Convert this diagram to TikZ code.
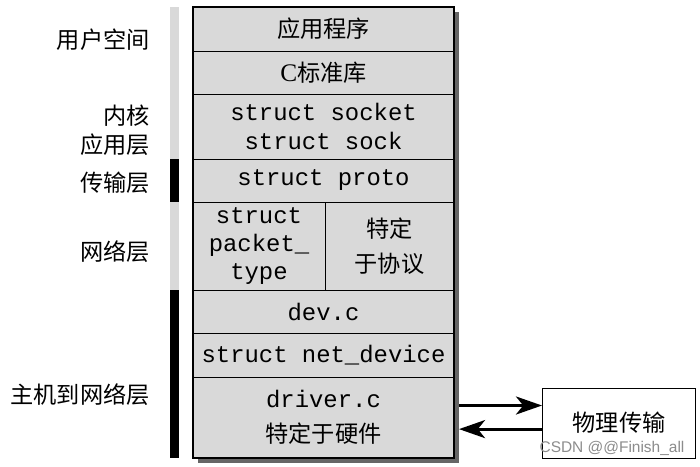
\documentclass[tikz,border=0pt]{standalone}
\usepackage{fontspec}
\setmainfont{Noto Sans CJK SC}
\newfontfamily\codefont{Liberation Mono}
\newfontfamily\serifc{Liberation Serif}
\newfontfamily\markfont{Liberation Sans}
\usetikzlibrary{arrows.meta,positioning,calc,backgrounds}

\begin{document}
\begin{tikzpicture}[
  layer/.style={draw, line width=0.6pt, fill=black!15, minimum width=6.525cm, inner sep=0pt, outer sep=0pt, align=center, font=\fontsize{16.5}{20}\selectfont},
  code/.style={font=\fontsize{17}{20}\selectfont\codefont},
  side/.style={anchor=east, align=right, inner sep=0pt, font=\fontsize{16.5}{21}\selectfont},
  link/.style={-{Stealth[length=6.5mm,width=4.5mm,inset=1.8mm]}, line width=2.2pt},
  node distance=0pt]
\useasboundingbox (-4.825,0.175) rectangle (12.675,-11.475);

\node[layer, minimum height=1.1cm, anchor=north west] (app) at (0,0) {应用程序};
\node[layer, minimum height=1.075cm, below=of app] (libc) {{\serifc\fontsize{18}{20}\selectfont C}标准库};
\node[layer, code, minimum height=1.625cm, below=of libc] (sock) {struct socket\\struct sock};
\node[layer, code, minimum height=1.075cm, below=of sock] (proto) {struct proto};
\node[layer, code, minimum width=3.3cm, minimum height=2.2cm, anchor=north west] (pkt) at (proto.south west) {struct\\packet\_\\type};
\node[layer, minimum width=3.225cm, minimum height=2.2cm, anchor=north west] (spec) at (pkt.north east) {特定\\[5pt]于协议};
\node[layer, code, minimum height=1.075cm, anchor=north west] (dev) at (pkt.south west) {dev.c};
\node[layer, code, minimum height=1.1cm, below=of dev] (netdev) {struct net\_device};
\node[layer, minimum height=2.025cm, below=of netdev] (drv) {{\codefont\fontsize{17}{20}\selectfont driver.c}\\[5pt]特定于硬件};
\draw[line width=1pt] (app.north west) rectangle (drv.south east);

\begin{scope}[on background layer]
\fill[black!60] ($(app.north east)+(0.125,-0.125)$) rectangle ($(drv.south west)+(0.125,-0.125)$);
\end{scope}

\fill[black!15] ($(app.north west)+(-0.575,0)$) rectangle ($(sock.south west)+(-0.35,0)$);
\fill[black] ($(sock.south west)+(-0.575,0)$) rectangle ($(proto.south west)+(-0.35,0)$);
\fill[black!15] ($(proto.south west)+(-0.575,0)$) rectangle ($(pkt.south west)+(-0.35,0)$);
\fill[black] ($(pkt.south west)+(-0.575,0)$) rectangle ($(drv.south west)+(-0.35,0)$);

\node[side] (user) at (-1.075,-0.825) {用户空间};
\node[side] (kapp) at (-1.075,-3.075) {内核\\应用层};
\node[side] (trans) at (-1.075,-4.4) {传输层};
\node[side] (netl) at (-1.075,-6.125) {网络层};
\node[side] (host) at (-1.075,-9.7) {主机到网络层};

\node[draw, line width=0.8pt, fill=white, minimum width=3.825cm, minimum height=1.75cm, font=\fontsize{16.5}{20}\selectfont, right=2.2cm of drv, yshift=-0.14cm] (phys) {物理传输};
\draw[link] ($(drv.east)+(0.125,0.3)$) -- ($(drv.east -| phys.west)+(0,0.3)$);
\draw[link] ($(drv.east -| phys.west)+(0,-0.29)$) -- ($(drv.east)+(0.125,-0.29)$);

\node[font=\fontsize{11}{12}\selectfont\markfont, text=black!45] (mark) at (10.475,-11.025) {CSDN @@Finish\_all};
\end{tikzpicture}
\end{document}
